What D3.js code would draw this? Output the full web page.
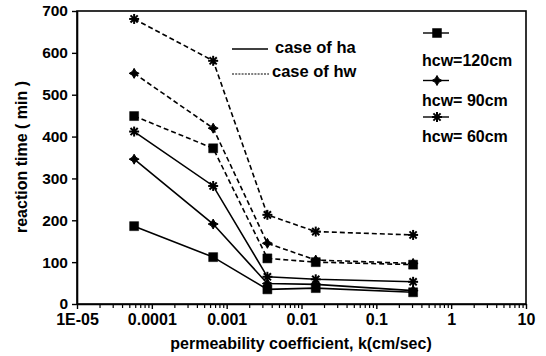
<!DOCTYPE html>
<html>
<head>
<meta charset="utf-8">
<script src="https://cdn.jsdelivr.net/npm/d3@7"></script>
<style>
  html, body { margin: 0; padding: 0; background: #fff; }
  svg { display: block; font-family: "Liberation Sans", Arial, Helvetica, sans-serif; }
</style>
</head>
<body>
<svg id="chart" width="546" height="356"></svg>
<script>
// ---- data ----
const kValues = [5.8e-5, 6.6e-4, 3.5e-3, 1.55e-2, 0.31];
const ha120 = [186, 112, 35, 38, 28];
const ha90  = [346, 191, 49, 47, 32];
const ha60  = [412, 282, 65, 59, 53];
const hw120 = [449, 372, 109, 100, 94];
const hw90  = [551, 420, 145, 105, 97];
const hw60  = [681, 581, 213, 173, 165];
const xTickLabels = ["1E-05", "0.0001", "0.001", "0.01", "0.1", "1", "10"];
const yTicks = [0, 100, 200, 300, 400, 500, 600, 700];
const caseLabels = ["case of ha", "case of hw"];
const hcwLabels = ["hcw=120cm", "hcw= 90cm", "hcw= 60cm"];

const series = [
  { vals: ha120, marker: "square",   dashed: false },
  { vals: ha90,  marker: "plus",     dashed: false },
  { vals: ha60,  marker: "asterisk", dashed: false },
  { vals: hw120, marker: "square",   dashed: true },
  { vals: hw90,  marker: "plus",     dashed: true },
  { vals: hw60,  marker: "asterisk", dashed: true }
];

const svg = d3.select("#chart");
const L = 77, R = 526, T = 11, B = 304;
const x = d3.scaleLog().domain([1e-5, 10]).range([L, R]);
const y = d3.scaleLinear().domain([0, 700]).range([B, T]);

// frame
svg.append("rect").attr("x", L).attr("y", T).attr("width", R - L).attr("height", B - T)
  .attr("fill", "none").attr("stroke", "#000").attr("stroke-width", 1.6);

// x axis
const majors = xTickLabels.map(s => +s);
const minors = [];
for (let e = -5; e < 1; e++) for (let m = 2; m <= 9; m++) minors.push(m * Math.pow(10, e));
const xAxis = d3.axisBottom(x).tickValues(majors).tickFormat((d, i) => xTickLabels[i])
  .tickSizeInner(5).tickSizeOuter(0).tickPadding(5);
const gx = svg.append("g").attr("transform", `translate(0,${B})`).call(xAxis);
gx.select(".domain").attr("stroke-width", 1.6);
gx.selectAll(".tick line").attr("stroke-width", 1.4);
gx.selectAll(".tick text").attr("font-size", 16).attr("font-weight", "bold").attr("fill", "#000");
const gxm = svg.append("g").attr("transform", `translate(0,${B})`)
  .call(d3.axisBottom(x).tickValues(minors).tickFormat("").tickSizeInner(4).tickSizeOuter(0));
gxm.select(".domain").remove();
gxm.selectAll(".tick line").attr("stroke-width", 1.2);

// y axis
const gy = svg.append("g").attr("transform", `translate(${L},0)`)
  .call(d3.axisLeft(y).tickValues(yTicks).tickSizeInner(5).tickSizeOuter(0).tickPadding(4));
gy.select(".domain").attr("stroke-width", 1.6);
gy.selectAll(".tick line").attr("stroke-width", 1.4);
gy.selectAll(".tick text").attr("font-size", 15.5).attr("font-weight", "bold").attr("fill", "#000");

// axis titles
svg.append("text").attr("x", 301).attr("y", 349).attr("text-anchor", "middle")
  .attr("font-size", 16).attr("font-weight", "bold").text("permeability coefficient, k(cm/sec)");
svg.append("text").attr("transform", "translate(27,157) rotate(-90)").attr("text-anchor", "middle")
  .attr("font-size", 16).attr("font-weight", "bold").text("reaction time ( min )");

// markers
function markerPath(type, cx, cy) {
  const p = d3.path();
  if (type === "square") {
    p.rect(cx - 4.5, cy - 4.5, 9, 9);
  } else if (type === "plus") {
    const a = 5, w = 1.8;
    p.moveTo(cx - a, cy); p.lineTo(cx - w, cy - w); p.lineTo(cx, cy - a); p.lineTo(cx + w, cy - w);
    p.lineTo(cx + a, cy); p.lineTo(cx + w, cy + w); p.lineTo(cx, cy + a); p.lineTo(cx - w, cy + w);
    p.closePath();
  }
  return p.toString();
}
function drawMarker(g, type, cx, cy) {
  if (type === "asterisk") {
    const a = 5, b = 3.6;
    const segs = [[-a, 0, a, 0], [0, -a, 0, a], [-b, -b, b, b], [-b, b, b, -b]];
    segs.forEach(s => g.append("line")
      .attr("x1", cx + s[0]).attr("y1", cy + s[1]).attr("x2", cx + s[2]).attr("y2", cy + s[3])
      .attr("stroke", "#000").attr("stroke-width", 2));
    g.append("circle").attr("cx", cx).attr("cy", cy).attr("r", 2.2).attr("fill", "#000");
  } else {
    g.append("path").attr("d", markerPath(type, cx, cy)).attr("fill", "#000")
      .attr("stroke", "#000").attr("stroke-width", type === "plus" ? 1 : 0.5);
  }
}

const line = d3.line().x(d => x(d[0])).y(d => y(d[1]));
series.forEach(s => {
  const pts = kValues.map((k, i) => [k, s.vals[i]]);
  svg.append("path").attr("d", line(pts)).attr("fill", "none").attr("stroke", "#000")
    .attr("stroke-width", 1.6).attr("stroke-dasharray", s.dashed ? "5,3" : null);
  const g = svg.append("g");
  pts.forEach(p => drawMarker(g, s.marker, x(p[0]), y(p[1])));
});

// legend: line styles
svg.append("line").attr("x1", 232).attr("x2", 268).attr("y1", 49).attr("y2", 49)
  .attr("stroke", "#000").attr("stroke-width", 1.3);
svg.append("line").attr("x1", 232).attr("x2", 269).attr("y1", 74).attr("y2", 74)
  .attr("stroke", "#000").attr("stroke-width", 1.1).attr("stroke-dasharray", "2,1.2");
svg.append("text").attr("x", 275).attr("y", 53).attr("font-size", 16.5).attr("font-weight", "bold").text(caseLabels[0]);
svg.append("text").attr("x", 272).attr("y", 77).attr("font-size", 16.5).attr("font-weight", "bold").text(caseLabels[1]);

// legend: markers
const legMarkers = ["square", "plus", "asterisk"];
const legLineY = [33, 80.5, 117];
const legTextY = [66, 106, 142];
legMarkers.forEach((m, i) => {
  svg.append("line").attr("x1", 423).attr("x2", 449).attr("y1", legLineY[i]).attr("y2", legLineY[i])
    .attr("stroke", "#000").attr("stroke-width", 1.4);
  drawMarker(svg.append("g"), m, 437, legLineY[i]);
  svg.append("text").attr("x", 422).attr("y", legTextY[i]).attr("font-size", 16)
    .attr("font-weight", "bold").text(hcwLabels[i]);
});
</script>
</body>
</html>
